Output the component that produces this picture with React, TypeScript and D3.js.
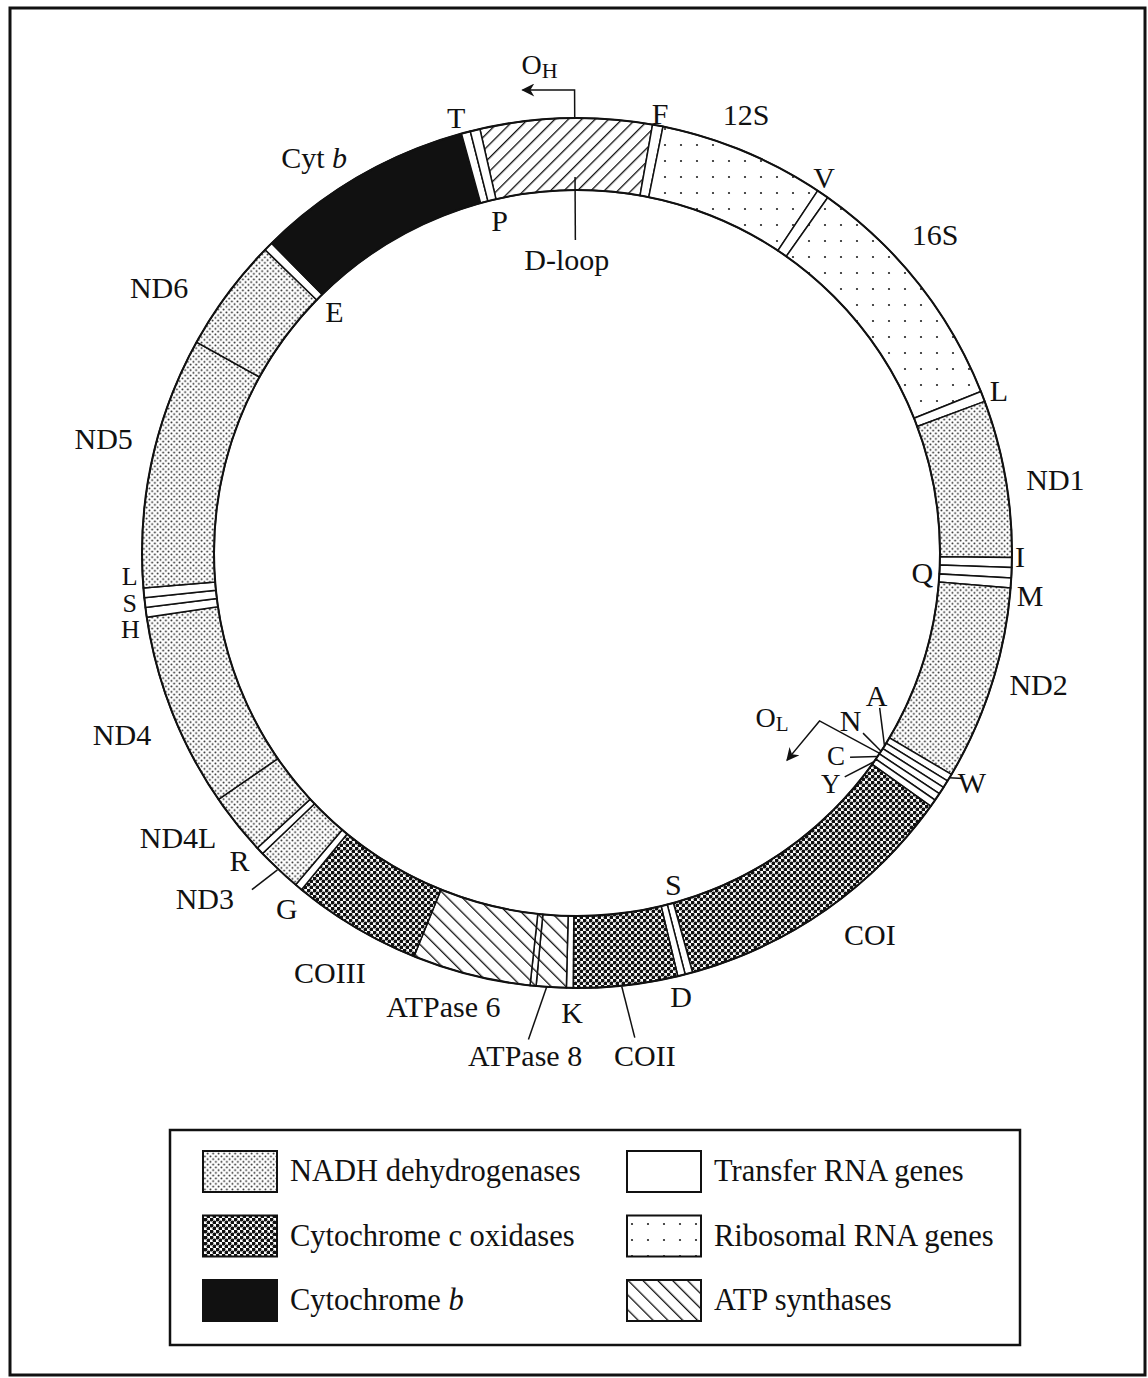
import React from "react";
import * as d3 from "d3";

const width = 1148;
const height = 1378;
const cx = 577;
const cy = 553;
const rOuter = 435;
const rInner = 363;

// genome segments, clockwise from the D-loop (degrees, 0 = top)
const segStart = -12.9;
const segNames = ["D-loop", "F", "12S", "V", "16S", "L", "ND1", "I", "Q", "M", "ND2", "W", "A", "N", "C", "Y", "COI", "S", "D", "COII", "K", "ATPase 8", "ATPase 8/6", "ATPase 6", "COIII", "G", "ND3", "R", "ND4L", "ND4", "H", "S", "L", "ND5", "ND6", "E", "Cyt b", "T", "P"];
const segKinds = ["dloop", "trna", "rrna", "trna", "rrna", "trna", "nadh", "trna", "trna", "trna", "nadh", "trna", "trna", "trna", "trna", "trna", "cox", "trna", "trna", "cox", "trna", "atp", "atp", "atp", "cox", "trna", "nadh", "trna", "nadh", "nadh", "trna", "trna", "trna", "nadh", "nadh", "trna", "cytb", "trna", "trna"];
const segEnds = [10, 11.4, 33.6, 35.2, 68.2, 69.6, 90.6, 91.9, 93.3, 94.6, 120.6, 121.6, 122.6, 123.6, 124.6, 125.6, 164.6, 165.6, 166.6, 180.5, 181.4, 185.4, 186.2, 202, 219.3, 220.3, 226.3, 227.3, 235.5, 261.5, 262.8, 264.1, 265.4, 299, 314.2, 315.4, 344.6, 345.8, 347.1];

// labels around the ring: angle (deg), distance from centre, font size
const labelNames = ["T", "F", "12S", "P", "D-loop", "V", "16S", "L", "ND1", "I", "Q", "M", "ND2", "N", "A", "C", "Y", "W", "COI", "S", "D", "COII", "K", "ATPase 8", "ATPase 6", "COIII", "G", "ND3", "R", "ND4L", "ND4", "H", "S", "L", "ND5", "ND6", "E"];
const labelAngles = [344.5, 10.7, 21.1, 346.9, 358, 33.4, 48.4, 69, 81.3, 90.5, 93.3, 95.4, 105.9, 121.5, 115.5, 128.1, 132.3, 120.2, 142.5, 163.8, 166.8, 172.3, 180.6, 185.9, 196.4, 210.5, 219.2, 227.1, 227.6, 234.5, 248.2, 260.3, 263.6, 267.0, 283.6, 302.4, 314.8];
const labelRadii = [452, 447, 470, 341, 293, 449, 479, 452, 484, 443, 346, 455, 480, 321, 332, 329, 343, 457, 481, 345, 456, 507, 460, 505, 473, 487, 459, 508, 457, 490, 490, 453, 450, 448, 487, 495, 342];
const labelSizes = [30, 30, 30, 30, 30, 30, 30, 30, 30, 30, 30, 30, 30, 30, 30, 27, 27, 30, 30, 30, 30, 30, 30, 30, 30, 30, 30, 30, 30, 30, 30, 26, 26, 26, 30, 30, 30];

// leader lines: angle from, radius from, angle to, radius to
const leaderFrom = [[122.2, 338], [117.1, 340], [126.8, 341], [129.9, 349], [121.1, 435], [173.2, 488], [185.7, 489], [224, 468], [359.7, 376]];
const leaderTo = [[123.1, 363], [122.1, 363], [124.1, 363], [125.1, 363], [120.3, 447], [174.1, 436], [184, 435], [223.4, 436], [359.7, 313]];

// replication origins
const cytbLabel = [326.4, 475];
const ohStem = [359.7, 435, 463];
const olStem = [123.5, 363, 124.7, 295];
const olArrowEnd = [134.6, 295];

const legendNames = ["NADH dehydrogenases", "Cytochrome c oxidases", "Cytochrome b", "Transfer RNA genes", "Ribosomal RNA genes", "ATP synthases"];
const legendKinds = ["nadh", "cox", "cytb", "trna", "rrna", "atp"];

const font = "'Liberation Serif', 'DejaVu Serif', serif";

const angle = d3.scaleLinear().domain([0, 360]).range([0, 2 * Math.PI]);

function polar(deg: number, r: number): [number, number] {
  const a = angle(deg);
  return [cx + r * Math.sin(a), cy - r * Math.cos(a)];
}

const fillFor = (kind: string) => {
  if (kind === "cytb") return "#111";
  if (kind === "trna") return "#fff";
  return `url(#p-${kind})`;
};

export default function App() {
  const arc = d3.arc<any>().innerRadius(rInner).outerRadius(rOuter);

  const segs = segNames.map((name, i) => ({
    name,
    kind: segKinds[i],
    start: i === 0 ? segStart : segEnds[i - 1],
    end: segEnds[i],
  }));

  const legendRow = d3.scalePoint<number>().domain([0, 1, 2]).range([1171, 1300]);
  const legendCol = d3.scaleOrdinal<number, number>().domain([0, 1]).range([203, 627]);

  const ohBend = polar(ohStem[0], ohStem[2]);
  const ohBase = polar(ohStem[0], ohStem[1]);
  const ohTip: [number, number] = [ohBend[0] - 52, ohBend[1]];

  const olA = polar(olStem[0], olStem[1]);
  const olB = polar(olStem[2], olStem[3]);
  const olC = polar(olArrowEnd[0], olArrowEnd[1]);

  const cb = polar(cytbLabel[0], cytbLabel[1]);

  return (
    <svg width={width} height={height} style={{ position: "absolute", left: 0, top: 0, background: "#fff" }} fontFamily={font}>
      <defs>
        <pattern id="p-nadh" width={5.5} height={5.5} patternUnits="userSpaceOnUse">
          <rect width={5.5} height={5.5} fill="#fff" />
          <circle cx={1.4} cy={1.4} r={0.95} fill="#222" />
          <circle cx={4.15} cy={4.15} r={0.95} fill="#222" />
        </pattern>
        <pattern id="p-cox" width={6} height={6} patternUnits="userSpaceOnUse">
          <rect width={6} height={6} fill="#fff" />
          <circle cx={1.5} cy={1.5} r={1.95} fill="#111" />
          <circle cx={4.5} cy={4.5} r={1.95} fill="#111" />
        </pattern>
        <pattern id="p-rrna" width={16} height={16} patternUnits="userSpaceOnUse">
          <rect width={16} height={16} fill="#fff" />
          <circle cx={8} cy={8} r={1.1} fill="#222" />
        </pattern>
        <pattern id="p-dloop" width={9.5} height={9.5} patternUnits="userSpaceOnUse" patternTransform="rotate(45)">
          <rect width={9.5} height={9.5} fill="#fff" />
          <line x1={0} y1={0} x2={0} y2={9.5} stroke="#111" strokeWidth={2.6} />
        </pattern>
        <pattern id="p-atp" width={10.5} height={10.5} patternUnits="userSpaceOnUse" patternTransform="rotate(-45)">
          <rect width={10.5} height={10.5} fill="#fff" />
          <line x1={0} y1={0} x2={0} y2={10.5} stroke="#111" strokeWidth={2.6} />
        </pattern>
        <marker id="arrow" viewBox="0 0 10 10" refX={9} refY={5} markerWidth={18} markerHeight={13} markerUnits="userSpaceOnUse" orient="auto">
          <path d="M0,0 L10,5 L0,10 L3,5 Z" fill="#111" />
        </marker>
      </defs>

      <rect x={10} y={8} width={1135} height={1367} fill="none" stroke="#111" strokeWidth={3} />

      <g transform={`translate(${cx},${cy})`}>
        {segs.map((s, i) => (
          <path
            key={i}
            d={arc({ startAngle: angle(s.start), endAngle: angle(s.end) }) as string}
            fill={fillFor(s.kind)}
            stroke="#111"
            strokeWidth={1.5}
          />
        ))}
        <circle r={rOuter} fill="none" stroke="#111" strokeWidth={2} />
        <circle r={rInner} fill="none" stroke="#111" strokeWidth={2} />
      </g>

      <g stroke="#111" strokeWidth={1.5} fill="none">
        {leaderFrom.map((f, i) => {
          const a = polar(f[0], f[1]);
          const b = polar(leaderTo[i][0], leaderTo[i][1]);
          return <line key={i} x1={a[0]} y1={a[1]} x2={b[0]} y2={b[1]} />;
        })}
        <polyline points={`${ohBase[0]},${ohBase[1]} ${ohBend[0]},${ohBend[1]} ${ohTip[0]},${ohTip[1]}`} markerEnd="url(#arrow)" />
        <polyline points={`${olA[0]},${olA[1]} ${olB[0]},${olB[1]} ${olC[0]},${olC[1]}`} markerEnd="url(#arrow)" />
      </g>

      <g fill="#111" textAnchor="middle">
        {labelNames.map((name, i) => {
          const [x, y] = polar(labelAngles[i], labelRadii[i]);
          return (
            <text key={i} x={x} y={y} dy="0.34em" fontSize={labelSizes[i]}>
              {name}
            </text>
          );
        })}
        <text x={cb[0]} y={cb[1]} dy="0.34em" fontSize={30}>
          Cyt <tspan fontStyle="italic">b</tspan>
        </text>
      </g>

      <text x={ohTip[0] - 1} y={ohTip[1] - 16} fontSize={28} fill="#111">
        O<tspan fontSize={22} dy={4}>H</tspan>
      </text>
      <text x={olB[0] - 64} y={olB[1] + 6} fontSize={28} fill="#111">
        O<tspan fontSize={21} dy={4}>L</tspan>
      </text>

      <rect x={170} y={1130} width={850} height={215} fill="none" stroke="#111" strokeWidth={2.5} />
      {legendNames.map((name, i) => {
        const col = Math.floor(i / 3);
        const row = i % 3;
        const x = legendCol(col);
        const y = legendRow(row) as number;
        const isB = name.endsWith(" b");
        return (
          <g key={i}>
            <rect x={x} y={y - 20} width={74} height={41} fill={fillFor(legendKinds[i])} stroke="#111" strokeWidth={2} />
            <text x={x + 87} y={y} dy="0.34em" fontSize={30.5} fill="#111">
              {isB ? name.slice(0, -1) : name}
              {isB && <tspan fontStyle="italic">b</tspan>}
            </text>
          </g>
        );
      })}
    </svg>
  );
}
